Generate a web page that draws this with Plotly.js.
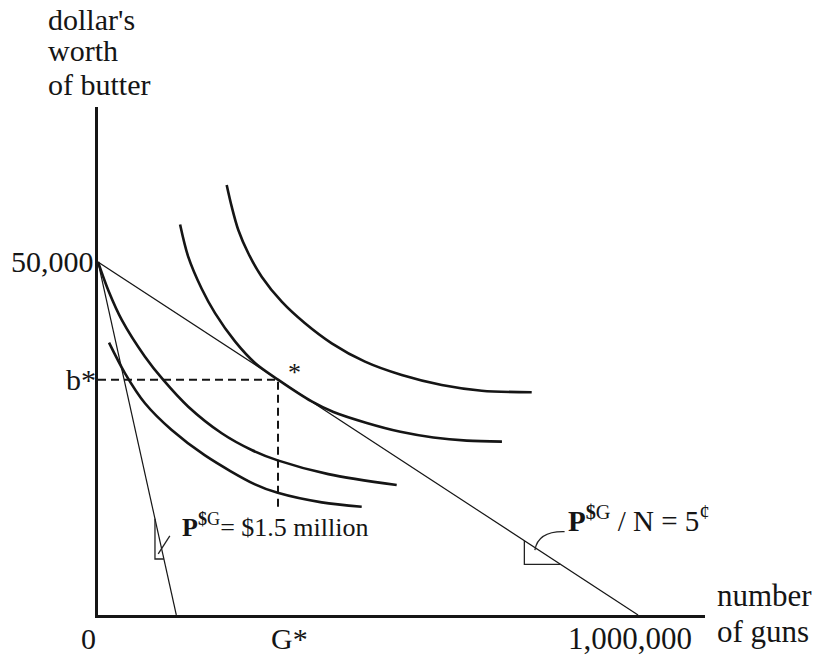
<!DOCTYPE html>
<html>
<head>
<meta charset="utf-8">
<script src="https://cdn.plot.ly/plotly-3.0.1.min.js"></script>
<style>
  html, body { margin: 0; padding: 0; background: #fff; }
  #chart { width: 818px; height: 656px; }
</style>
</head>
<body>
<div id="chart"></div>
<script>
// Budget: 50,000 dollars of butter, or guns at either price
const butterEndowment = 50000;
const gunsAtPerCapitaPrice = 1000000;   // P/N = 5 cents per gun
const gunsAtFullPrice = 145000;         // P = $1.5 million
const gStar = 333333;
const bStar = 33333;
const dashBottom = 14800;

// Indifference curves, lowest to highest
const ic1Guns   = [20400, 50000, 87000, 136500, 198100, 290700, 332800, 414300, 488300];
const ic1Butter = [38570, 34230, 29990, 26200, 22600, 18500, 17300, 15950, 15340];

const ic2Guns   = [0, 19000, 44000, 87000, 120900, 167200, 229100, 284600, 332800, 426500, 553100];
const ic2Butter = [50000, 46000, 41800, 36590, 33290, 29500, 25740, 23370, 21900, 19950, 18410];

const ic3Guns   = [152000, 167000, 192000, 216700, 253700, 290700, 333333, 395700, 436000, 497600, 560000, 621000, 683000, 748000];
const ic3Butter = [55300, 50750, 46200, 42750, 38750, 35700, 33333, 30250, 28750, 27200, 25950, 25150, 24700, 24550];

const ic4Guns   = [238300, 247600, 259800, 278300, 303100, 340200, 383300, 432800, 494400, 562400, 636500, 710600, 803100];
const ic4Butter = [60900, 57830, 54530, 51230, 47920, 44380, 41320, 38480, 35880, 33990, 32580, 31770, 31540];

// Axis labels
const xTickVals = [0, gStar, gunsAtPerCapitaPrice];
const xTickText = ['0', 'G*', '1,000,000'];
const yTickVals = [butterEndowment, bStar];
const yTickText = ['50,000', 'b*'];
const yTitleLines = ["dollar's", 'worth', 'of butter'];
const xTitleLines = ['number', 'of guns'];

const ink = '#151515';
const serif = 'Liberation Serif, Times New Roman, serif';

// Plot frame in pixels
const frame = { l: 98, r: 113, t: 107, b: 41 };
const W = 818 - frame.l - frame.r;
const H = 656 - frame.t - frame.b;
const px = x => (x - frame.l) / W;          // page pixel -> paper x
const py = y => (656 - frame.b - y) / H;    // page pixel -> paper y

const budgetMarket = g => butterEndowment * (1 - g / gunsAtPerCapitaPrice);
const budgetFull = g => butterEndowment * (1 - g / gunsAtFullPrice);

const curveLine = { color: ink, width: 2.6, shape: 'spline', smoothing: 0.9 };
const traces = [
  { x: [0, gunsAtPerCapitaPrice], y: [butterEndowment, 0], mode: 'lines', line: { color: ink, width: 1.2 } },
  { x: [0, gunsAtFullPrice], y: [butterEndowment, 0], mode: 'lines', line: { color: ink, width: 1.2 } },
  { x: ic1Guns, y: ic1Butter, mode: 'lines', line: curveLine },
  { x: ic2Guns, y: ic2Butter, mode: 'lines', line: curveLine },
  { x: ic3Guns, y: ic3Butter, mode: 'lines', line: curveLine },
  { x: ic4Guns, y: ic4Butter, mode: 'lines', line: curveLine },
  { x: [0, gStar, gStar], y: [bStar, bStar, dashBottom], mode: 'lines',
    line: { color: ink, width: 2, dash: '8px,5px' } }
].map(t => Object.assign({ type: 'scatter', hoverinfo: 'skip', showlegend: false, cliponaxis: false }, t));

// Right-angle slope markers and leader strokes
const shapes = [];
(function () {
  const thin = { color: '#222', width: 1.3 };
  // steep line
  const sx0 = 105500, sy0 = budgetFull(sx0), sy1 = 7930;
  const sx1 = gunsAtFullPrice * (1 - sy1 / butterEndowment);
  shapes.push({ type: 'path', xref: 'x', yref: 'y', line: thin,
    path: `M${sx0},${sy0} L${sx0},${sy1} L${sx1},${sy1}` });
  shapes.push({ type: 'line', xref: 'x', yref: 'y', line: thin,
    x0: 111500, y0: 8650, x1: 133000, y1: 11200 });
  // flat line
  const fx0 = 789500, fy0 = budgetMarket(fx0), fy1 = 7180;
  const fx1 = gunsAtPerCapitaPrice * (1 - fy1 / butterEndowment);
  shapes.push({ type: 'path', xref: 'x', yref: 'y', line: thin,
    path: `M${fx0},${fy0} L${fx0},${fy1} L${fx1},${fy1}` });
  shapes.push({ type: 'path', xref: 'x', yref: 'y', line: thin,
    path: `M809000,9200 Q815000,11900 864000,11800` });
})();

const annotations = [];
const txt = (o) => annotations.push(Object.assign({ showarrow: false, font: { family: serif, size: 30, color: ink } }, o));

// x tick labels
const xShift = [-10, 11, -8];
xTickVals.forEach((v, i) => txt({ x: v, xref: 'x', y: py(638), yref: 'paper',
  text: xTickText[i], xanchor: 'center', yanchor: 'middle', xshift: xShift[i],
  font: { family: serif, size: i === 2 ? 31 : 30, color: ink } }));
// y tick labels
const yRight = [96, 98];
yTickVals.forEach((v, i) => txt({ x: px(yRight[i]), xref: 'paper', y: v, yref: 'y',
  text: yTickText[i], xanchor: 'right', yanchor: 'middle' }));
// axis titles
const yTitleY = [19, 51, 84];
yTitleLines.forEach((s, i) => txt({ x: px(46), xref: 'paper', y: py(yTitleY[i]), yref: 'paper',
  text: s, xanchor: 'left', yanchor: 'middle' }));
const xTitleY = [595, 631];
xTitleLines.forEach((s, i) => txt({ x: px(715), xref: 'paper', y: py(xTitleY[i]), yref: 'paper',
  text: s, xanchor: 'left', yanchor: 'middle', font: { family: serif, size: 31, color: ink } }));

// tangency star
txt({ x: gStar, y: bStar, xref: 'x', yref: 'y', text: '*', xshift: 16, yshift: 7,
  font: { family: serif, size: 26, color: ink } });

// price labels
txt({ x: 151800, y: 12700, xref: 'x', yref: 'y', xanchor: 'left', yanchor: 'middle',
  text: '<b>P</b><sup><b>$</b>G</sup>= $1.5 million', font: { family: serif, size: 26, color: ink } });
txt({ x: 866000, y: 13600, xref: 'x', yref: 'y', xanchor: 'left', yanchor: 'middle',
  text: '<b>P</b><sup><b>$</b>G</sup> / N = 5<sup>¢</sup>', font: { family: serif, size: 29, color: ink } });

const axisBase = { showgrid: false, zeroline: false, showticklabels: false, ticks: '',
  showline: true, linecolor: ink, linewidth: 2.6, fixedrange: true };

const layout = {
  width: 818, height: 656,
  margin: frame,
  paper_bgcolor: '#fff', plot_bgcolor: '#fff',
  showlegend: false,
  xaxis: Object.assign({ range: [0, 1124000] }, axisBase),
  yaxis: Object.assign({ range: [0, 71950] }, axisBase),
  shapes, annotations
};

Plotly.newPlot('chart', traces, layout, { staticPlot: true, displayModeBar: false });
</script>
</body>
</html>
